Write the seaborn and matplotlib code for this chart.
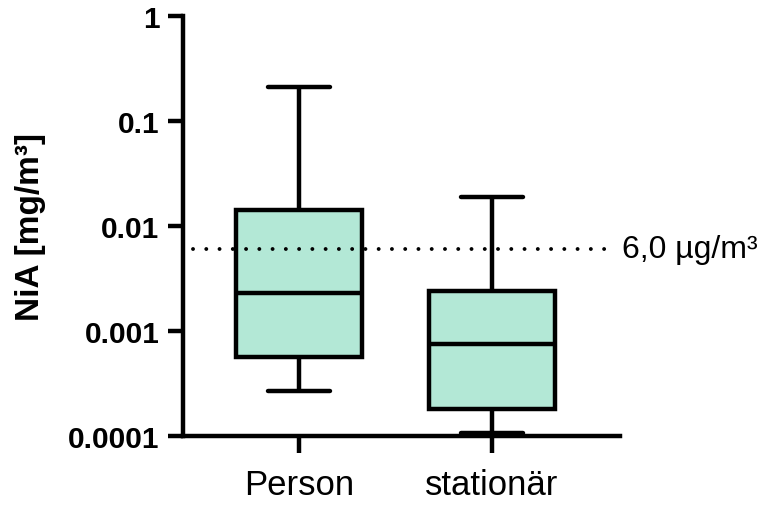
import matplotlib
matplotlib.use("Agg")
import matplotlib.pyplot as plt
import seaborn as sns
import pandas as pd

sns.set_style("ticks")
plt.rcParams['font.family'] = ['Liberation Sans', 'DejaVu Sans']
for k in ["text.color", "axes.labelcolor", "xtick.color", "ytick.color", "axes.edgecolor"]:
    plt.rcParams[k] = "black"

categories = ["Person", "stationär"]
# five-number summaries: min, Q1, median, Q3, max (mg/m³)
person_vals = [0.000268, 0.000565, 0.0023, 0.0142, 0.21]
station_vals = [0.000107, 0.000181, 0.00075, 0.0024, 0.0189]
limit_value = 0.006
limit_label = "6,0 µg/m³"
ytick_vals = [0.0001, 0.001, 0.01, 0.1, 1]
ytick_labels = ["0.0001", "0.001", "0.01", "0.1", "1"]

df = pd.DataFrame({
    "group": [categories[0]] * len(person_vals) + [categories[1]] * len(station_vals),
    "value": person_vals + station_vals,
})

fig = plt.figure(figsize=(7.61, 5.06), dpi=100)
ax = fig.add_axes([0.2405, 0.136, 0.574, 0.830])

sns.boxplot(data=df, x="group", y="value", order=categories, whis=(0, 100),
            color="#b3e8d6", saturation=1, linecolor="black", linewidth=3.2,
            width=0.65, log_scale=True, ax=ax, showfliers=False)

ax.plot([-0.55, 1.63], [limit_value, limit_value], color="black",
        linestyle=(0, (0.01, 3.4)), linewidth=2.8, dash_capstyle="round",
        solid_capstyle="round", zorder=5, clip_on=False)
ax.text(1.675, limit_value, limit_label, fontsize=23, va="center", ha="left",
        clip_on=False)

ax.set_yscale("log")
ax.set_ylim(0.0001, 1)
ax.set_xlim(-0.601, 1.663)
ax.set_yticks(ytick_vals)
ax.set_yticklabels(ytick_labels, fontsize=21.5, fontweight="bold")
ax.yaxis.set_minor_locator(matplotlib.ticker.NullLocator())
ax.set_xticks([0, 1])
ax.set_xticklabels(categories, fontsize=25)
ax.set_xlabel("")
ax.set_ylabel("NiA [mg/m³]", fontsize=24, fontweight="bold")
ax.yaxis.set_label_coords(-0.3135, 0.5)

for s in ["left", "bottom"]:
    ax.spines[s].set_linewidth(3.2)
sns.despine(ax=ax)
ax.tick_params(axis="both", width=3.2, length=11)
ax.tick_params(axis="y", pad=6)
ax.tick_params(axis="x", length=12, pad=11)

fig.savefig("out.png", dpi=100)
